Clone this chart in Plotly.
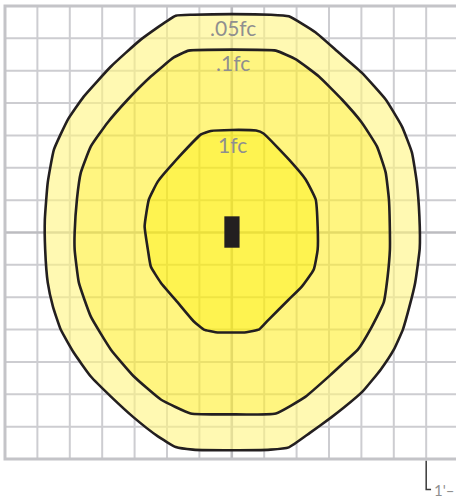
import plotly.graph_objects as go

# ---- data (grid units = feet, fixture at origin) ----
grid_ticks = list(range(-7, 8))

outer_u = [0, 1.2, 1.76, 2.59, 3.30, 4.01, 4.75, 5.25, 5.56, 5.71, 5.79, 5.80, 5.66, 5.48, 5.28, 5.0, 4.6, 4.04, 3.46, 3.06, 2.4, 1.76, 1.2, 0,
           -1.2, -1.73, -2.28, -3.02, -3.73, -4.35, -4.88, -5.28, -5.52, -5.68, -5.76, -5.77, -5.68, -5.49, -5.06, -4.57, -3.73, -2.81, -1.73, -1.2, 0]
outer_v = [6.75, 6.73, 6.68, 6.18, 5.56, 4.94, 4.11, 3.28, 2.47, 1.55, 0.5, -0.5, -1.55, -2.3, -3.0, -3.62, -4.23, -4.91, -5.41, -5.72, -6.2, -6.64, -6.71, -6.73,
           -6.71, -6.63, -6.30, -5.72, -5.07, -4.45, -3.71, -3.0, -2.29, -1.55, -0.53, 0.4, 1.55, 2.56, 3.49, 4.2, 5.13, 5.96, 6.70, 6.73, 6.75]

middle_u = [0, 1.36, 1.98, 2.69, 3.40, 4.01, 4.48, 4.75, 4.85, 4.88, 4.88, 4.81, 4.69, 4.29, 3.89, 3.46, 3.06, 2.28, 1.36, 0,
            -1.27, -2.19, -3.02, -3.73, -4.35, -4.72, -4.85, -4.85, -4.78, -4.66, -4.35, -3.83, -3.21, -2.5, -1.79, -1.33, 0]
middle_v = [5.65, 5.62, 5.35, 4.82, 4.11, 3.40, 2.66, 1.85, 1.02, 0, -0.53, -1.36, -2.16, -2.97, -3.62, -4.02, -4.39, -5.07, -5.59, -5.62,
            -5.59, -5.16, -4.45, -3.62, -2.60, -1.55, -0.53, 0, 1.02, 1.85, 2.66, 3.40, 4.11, 4.82, 5.41, 5.62, 5.65]

inner_u = [0, 0.75, 0.98, 1.76, 2.28, 2.59, 2.65, 2.65, 2.53, 2.16, 1.76, 1.14, 0.85, 0.45, 0,
           -0.5, -0.86, -1.17, -1.67, -2.19, -2.50, -2.59, -2.69, -2.56, -2.28, -1.79, -0.95, -0.65, 0]
inner_v = [3.17, 3.15, 3.06, 2.26, 1.64, 1.02, 0.19, -0.53, -1.14, -1.67, -2.07, -2.69, -2.99, -3.08, -3.09,
           -3.08, -3.00, -2.75, -2.16, -1.55, -1.05, -0.53, 0.19, 1.02, 1.58, 2.16, 3.03, 3.14, 3.17]

labels = [".05fc", ".1fc", "1fc"]
label_v = [6.33, 5.25, 2.72]

fixture_u = [-0.23, 0.24]
fixture_v = [-0.47, 0.50]

scale_u = [6.0, 6.0, 6.15]
scale_v = [-7.05, -7.94, -7.94]
scale_text = "1'–"

# ---- figure ----
fig = go.Figure()

GRID = "#cdcdd1"
BORDER = "#c4c4c8"
CENTER = "#bcbcc0"
INK = "#231f20"
LABEL = "#8f8f8f"


def add_lines(xs, ys, color, width):
    fig.add_trace(go.Scatter(x=xs, y=ys, mode="lines", line=dict(color=color, width=width),
                             hoverinfo="skip", showlegend=False))


# regular grid lines
gx, gy = [], []
for t in grid_ticks[1:-1]:
    if t == 0:
        continue
    gx += [t, t, None]
    gy += [grid_ticks[0], grid_ticks[-1], None]
    gx += [grid_ticks[0], grid_ticks[-1], None]
    gy += [t, t, None]
gx += [grid_ticks[-1], grid_ticks[-1], None]
gy += [grid_ticks[0], grid_ticks[-1], None]
add_lines(gx, gy, GRID, 2)
# center lines
add_lines([0, 0, None, grid_ticks[0], grid_ticks[-1]],
          [grid_ticks[0], grid_ticks[-1], None, 0, 0], CENTER, 2.6)
# border
add_lines([grid_ticks[-1], grid_ticks[0], grid_ticks[0], grid_ticks[-1]],
          [grid_ticks[-1], grid_ticks[-1], grid_ticks[0], grid_ticks[0]], BORDER, 3)


def ring(ou, ov, iu=None, iv=None):
    if iu is None:
        return list(ou), list(ov)
    return list(ou) + [None] + list(iu)[::-1], list(ov) + [None] + list(iv)[::-1]


SM = 0.4
rx, ry = ring(outer_u, outer_v, middle_u, middle_v)
fig.add_trace(go.Scatter(x=rx, y=ry, mode="lines", fill="toself", fillcolor="rgba(255,245,127,0.6)",
                         line=dict(width=0, shape="spline", smoothing=SM), hoverinfo="skip", showlegend=False))
rx, ry = ring(middle_u, middle_v, inner_u, inner_v)
fig.add_trace(go.Scatter(x=rx, y=ry, mode="lines", fill="toself", fillcolor="rgba(255,238,43,0.6)",
                         line=dict(width=0, shape="spline", smoothing=SM), hoverinfo="skip", showlegend=False))
rx, ry = ring(inner_u, inner_v)
fig.add_trace(go.Scatter(x=rx, y=ry, mode="lines", fill="toself", fillcolor="rgba(254,238,5,0.7)",
                         line=dict(width=0, shape="spline", smoothing=SM), hoverinfo="skip", showlegend=False))

for cu, cv in [(outer_u, outer_v), (middle_u, middle_v), (inner_u, inner_v)]:
    fig.add_trace(go.Scatter(x=cu, y=cv, mode="lines",
                             line=dict(color=INK, width=2.6, shape="spline", smoothing=SM),
                             hoverinfo="skip", showlegend=False))

# fixture
fig.add_shape(type="rect", xref="x", yref="y", x0=fixture_u[0], x1=fixture_u[1],
              y0=fixture_v[0], y1=fixture_v[1], fillcolor=INK, line=dict(width=0), layer="above")

# scale marker
add_lines(scale_u, scale_v, "#3a3a3a", 1.5)
fig.add_annotation(x=scale_u[-1] + 0.02, y=scale_v[-1] - 0.02, text=scale_text, showarrow=False,
                   xanchor="left", yanchor="middle", font=dict(family="Lato", size=15, color=LABEL))

for txt, v in zip(labels, label_v):
    fig.add_annotation(x=0.03, y=v, text=txt, showarrow=False, xanchor="center", yanchor="middle",
                       font=dict(family="Lato", size=21, color=LABEL))

fig.update_layout(
    width=456, height=498, autosize=False,
    margin=dict(l=0, r=0, t=0, b=0, pad=0),
    paper_bgcolor="white", plot_bgcolor="white",
    xaxis=dict(range=[-7.154, 6.92], visible=False, fixedrange=True),
    yaxis=dict(range=[-8.204, 7.185], visible=False, fixedrange=True),
    showlegend=False,
)

fig.write_html("out.html", config={"displayModeBar": False},
               post_script="document.body.style.margin='0';document.body.style.overflow='hidden';")
